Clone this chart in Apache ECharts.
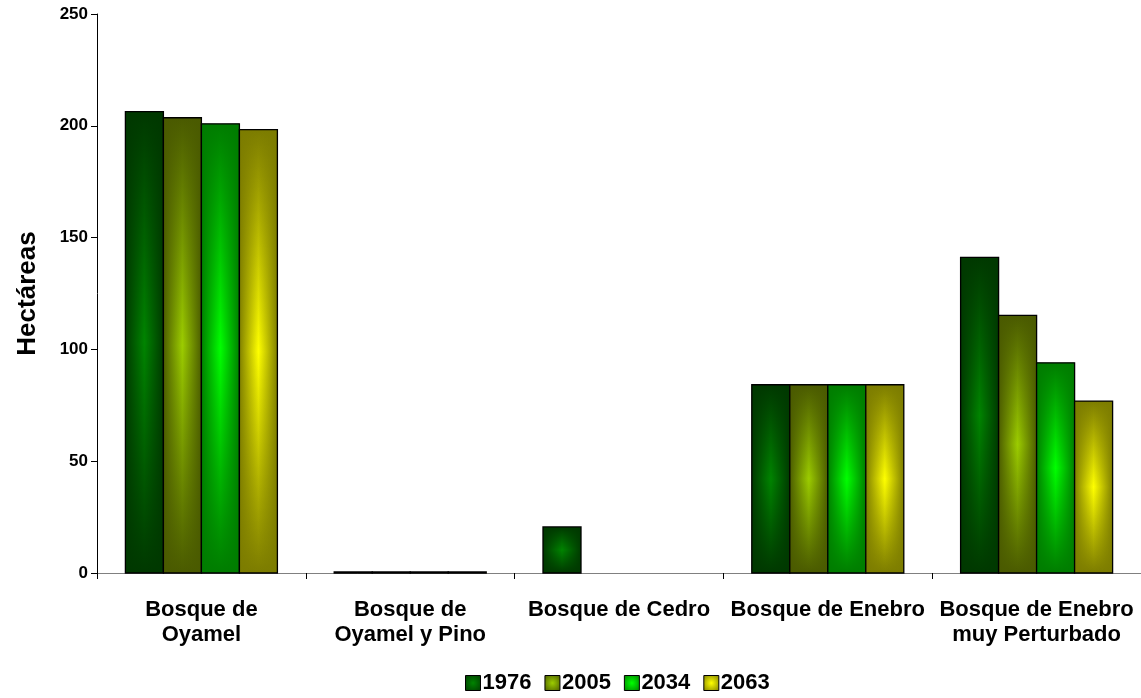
<!DOCTYPE html>
<html>
<head>
<meta charset="utf-8">
<script src="https://cdn.jsdelivr.net/npm/echarts@6/dist/echarts.min.js"></script>
<style>html,body{margin:0;padding:0;background:#fff;}#chart{width:1141px;height:698px;}</style>
</head>
<body>
<div id="chart"></div>
<script>
const categories = ['Bosque de\nOyamel', 'Bosque de\nOyamel y Pino', 'Bosque de Cedro', 'Bosque de Enebro', 'Bosque de Enebro\nmuy Perturbado'];
const seriesNames = ['1976', '2005', '2034', '2063'];
const values1976 = [206.3, 0.5, 20.6, 84.2, 141.2];
const values2005 = [203.6, 0.5, 0, 84.2, 115.2];
const values2034 = [200.9, 0.5, 0, 84.2, 94.0];
const values2063 = [198.3, 0.5, 0, 84.2, 76.9];
const yTicks = [0, 50, 100, 150, 200, 250];

const allValues = [values1976, values2005, values2034, values2063];
const darkColors = ['#003800', '#4a5a00', '#007c00', '#7c7c00'];
const brightColors = ['#008400', '#9ccc00', '#00ff00', '#ffff00'];
const FONT = "'Liberation Sans', Arial, sans-serif";
const BAR_RATIO = 0.182;

function hexA(hex, a) {
  const n = parseInt(hex.slice(1), 16);
  return 'rgba(' + ((n >> 16) & 255) + ',' + ((n >> 8) & 255) + ',' + (n & 255) + ',' + a + ')';
}

function makeRender(idx) {
  return function (params, api) {
    const v = api.value(1);
    if (!v) return null;
    const cat = api.value(0);
    const base = api.coord([cat, 0]);
    const top = api.coord([cat, v]);
    const band = api.size([1, 0])[0];
    const bw = band * BAR_RATIO;
    const x = base[0] - 2 * bw + idx * bw;
    const h = base[1] - top[1];
    const d = darkColors[idx], b = brightColors[idx];
    return {
      type: 'group',
      children: [
        {
          type: 'rect',
          shape: { x: x, y: top[1], width: bw, height: h },
          style: {
            fill: new echarts.graphic.LinearGradient(0, 0, 0, 1, [
              { offset: 0, color: d }, { offset: 0.5, color: b }, { offset: 1, color: d }
            ])
          }
        },
        {
          type: 'rect',
          shape: { x: x, y: top[1], width: bw, height: h },
          style: {
            fill: new echarts.graphic.LinearGradient(0, 0, 1, 0, [
              { offset: 0, color: hexA(d, 1) }, { offset: 0.5, color: hexA(d, 0) }, { offset: 1, color: hexA(d, 1) }
            ]),
            stroke: '#000',
            lineWidth: 1.3
          }
        }
      ]
    };
  };
}

const series = seriesNames.map(function (name, i) {
  return {
    name: name,
    type: 'custom',
    renderItem: makeRender(i),
    encode: { x: 0, y: 1 },
    itemStyle: {
      color: new echarts.graphic.RadialGradient(0.5, 0.5, 0.7, [
        { offset: 0, color: brightColors[i] }, { offset: 1, color: darkColors[i] }
      ]),
      borderColor: '#000',
      borderWidth: 1
    },
    data: allValues[i].map(function (v, j) { return [j, v]; })
  };
});

const chart = echarts.init(document.getElementById('chart'), null, { renderer: 'canvas' });
chart.setOption({
  backgroundColor: '#fff',
  animation: false,
  textStyle: { fontFamily: FONT },
  grid: { left: 97, right: 0, top: 14, bottom: 125, containLabel: false },
  legend: {
    data: seriesNames,
    bottom: -1,
    left: 460,
    icon: 'rect',
    itemWidth: 15,
    itemHeight: 15,
    itemGap: 13,
    textStyle: { fontSize: 22, fontWeight: 'bold', color: '#000', fontFamily: FONT, padding: [0, 0, 0, -3] },
    itemStyle: { borderColor: '#000', borderWidth: 1 }
  },
  xAxis: {
    type: 'category',
    data: categories,
    boundaryGap: true,
    axisLine: { lineStyle: { color: '#808080', width: 1 } },
    axisTick: { show: true, length: 6, lineStyle: { color: '#000' } },
    axisLabel: {
      interval: 0, fontSize: 22, fontWeight: 'bold', color: '#000',
      lineHeight: 25, margin: 24, fontFamily: FONT
    },
    splitLine: { show: false }
  },
  yAxis: {
    type: 'value',
    min: yTicks[0],
    max: yTicks[yTicks.length - 1],
    interval: yTicks[1] - yTicks[0],
    name: 'Hectáreas',
    nameLocation: 'middle',
    nameGap: 56,
    nameTextStyle: { fontSize: 26, fontWeight: 'bold', color: '#000', fontFamily: FONT },
    axisLine: { show: true, lineStyle: { color: '#000', width: 1 } },
    axisTick: { show: true, length: 6, lineStyle: { color: '#000' } },
    axisLabel: { fontSize: 17, fontWeight: 'bold', color: '#000', margin: 9, fontFamily: FONT },
    splitLine: { show: false }
  },
  series: series
});
</script>
</body>
</html>
